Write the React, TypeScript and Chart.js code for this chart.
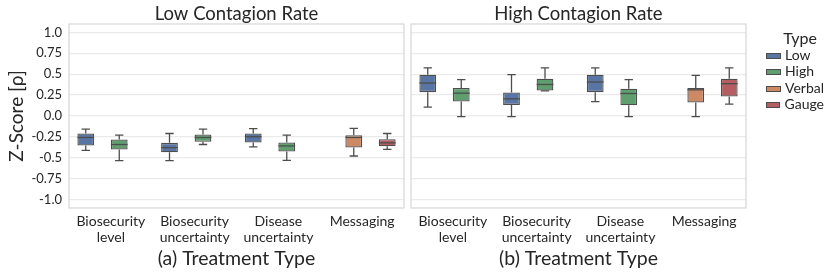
import React, { useEffect, useRef } from "react";
import { Chart, registerables } from "chart.js";

Chart.register(...registerables);

const FONT = "Lato, 'DejaVu Sans', sans-serif";
const TEXT = "#262626";

const categories: (string | string[])[] = [
  ["Biosecurity", "level"],
  ["Biosecurity", "uncertainty"],
  ["Disease", "uncertainty"],
  "Messaging",
];
const yTickValues = [-1, -0.75, -0.5, -0.25, 0, 0.25, 0.5, 0.75, 1];
const yTickLabels = ["-1.0", "-0.75", "-0.5", "-0.25", "0.0", "0.25", "0.5", "0.75", "1.0"];

// slot order inside each category (dodge order)
const slotTypes = ["Low", "Verbal", "High", "Gauge"];
const slotColors = ["#5875a4", "#cc8963", "#5f9e6e", "#b55d60"];
const legendTypes = ["Low", "High", "Verbal", "Gauge"];
const legendColors = ["#5875a4", "#5f9e6e", "#cc8963", "#b55d60"];

// each box: [lower whisker, Q1, median, Q3, upper whisker]
const lowRateLow = [
  [-0.41, -0.353, -0.257, -0.21, -0.157],
  [-0.534, -0.434, -0.378, -0.321, -0.209],
  [-0.369, -0.317, -0.248, -0.21, -0.152],
  null,
];
const lowRateVerbal = [null, null, null, [-0.478, -0.377, -0.257, -0.229, -0.148]];
const lowRateHigh = [
  [-0.534, -0.4, -0.341, -0.281, -0.229],
  [-0.341, -0.309, -0.257, -0.22, -0.157],
  [-0.53, -0.425, -0.358, -0.317, -0.229],
  null,
];
const lowRateGauge = [null, null, null, [-0.4, -0.361, -0.321, -0.277, -0.209]];

const highRateLow = [
  [0.105, 0.285, 0.394, 0.494, 0.575],
  [-0.008, 0.133, 0.205, 0.281, 0.494],
  [0.172, 0.285, 0.406, 0.494, 0.575],
  null,
];
const highRateVerbal = [null, null, null, [-0.008, 0.16, 0.313, 0.334, 0.486]];
const highRateHigh = [
  [-0.008, 0.172, 0.273, 0.334, 0.434],
  [0.3, 0.305, 0.377, 0.446, 0.575],
  [-0.008, 0.129, 0.269, 0.325, 0.434],
  null,
];
const highRateGauge = [null, null, null, [0.141, 0.233, 0.386, 0.446, 0.575]];

type Stat = number[] | null;

const LINE = "#4d4d4d";

const boxPlugin = {
  id: "boxWhiskers",
  beforeDatasetsDraw(chart: any) {
    const { ctx, chartArea } = chart;
    ctx.save();
    ctx.strokeStyle = "#d6d6d6";
    ctx.lineWidth = 1.2;
    ctx.strokeRect(chartArea.left, chartArea.top, chartArea.right - chartArea.left, chartArea.bottom - chartArea.top);
    ctx.restore();
  },
  afterDatasetsDraw(chart: any) {
    const { ctx } = chart;
    const y = chart.scales.y;
    chart.data.datasets.forEach((ds: any, di: number) => {
      const meta = chart.getDatasetMeta(di);
      (ds.stats as Stat[]).forEach((s, i) => {
        if (!s) return;
        const bar = meta.data[i] as any;
        const x = bar.x;
        const half = bar.width / 2;
        const cap = half / 2;
        const [wl, q1, med, q3, wh] = s.map((v) => y.getPixelForValue(v));
        ctx.save();
        ctx.strokeStyle = LINE;
        ctx.lineWidth = 1.3;
        ctx.beginPath();
        ctx.moveTo(x, q3);
        ctx.lineTo(x, wh);
        ctx.moveTo(x - cap, wh);
        ctx.lineTo(x + cap, wh);
        ctx.moveTo(x, q1);
        ctx.lineTo(x, wl);
        ctx.moveTo(x - cap, wl);
        ctx.lineTo(x + cap, wl);
        ctx.stroke();
        ctx.beginPath();
        ctx.moveTo(x - half, med);
        ctx.lineTo(x + half, med);
        ctx.stroke();
        ctx.restore();
      });
    });
  },
};

function makeDatasets(series: Stat[][]) {
  return series.map((stats, k) => ({
    label: slotTypes[k],
    data: stats.map((s) => (s ? [s[1], s[3]] : null)),
    stats,
    backgroundColor: slotColors[k],
    borderColor: LINE,
    borderWidth: 1.3,
    borderSkipped: false,
    categoryPercentage: 0.8,
    barPercentage: 1.0,
  }));
}

function makeConfig(series: Stat[][], title: string, xTitle: string, isLeft: boolean): any {
  return {
    type: "bar",
    data: { labels: categories, datasets: makeDatasets(series) },
    plugins: [boxPlugin],
    options: {
      responsive: false,
      animation: false,
      events: [],
      devicePixelRatio: 1,
      layout: { padding: { left: 0, right: isLeft ? 3 : 84, top: 0, bottom: 0 } },
      plugins: {
        legend: { display: false },
        tooltip: { enabled: false },
        title: {
          display: true,
          text: title,
          fullSize: false,
          color: TEXT,
          font: { family: FONT, size: 18.5, lineHeight: 1, weight: "normal" },
          padding: { top: 5, bottom: 0.5 },
        },
      },
      scales: {
        x: {
          type: "category",
          offset: true,
          grid: { display: false, drawTicks: false },
          border: { display: false },
          ticks: {
            color: TEXT,
            font: { family: FONT, size: 14, lineHeight: 1.1 },
            padding: 6,
            maxRotation: 0,
            autoSkip: false,
          },
          title: {
            display: true,
            text: xTitle,
            color: TEXT,
            font: { family: FONT, size: 19.5, lineHeight: 1 },
            padding: { top: 0, bottom: 9 },
          },
          afterFit: (s: any) => {
            s.height = 69;
          },
        },
        y: {
          type: "linear",
          min: -1.1,
          max: 1.1,
          afterBuildTicks: (s: any) => {
            s.ticks = yTickValues.map((v) => ({ value: v }));
          },
          grid: { color: "#eaeaea", lineWidth: 1.2, drawTicks: false },
          border: { display: false },
          ticks: {
            display: isLeft,
            color: TEXT,
            font: { family: FONT, size: 13 },
            padding: 7,
            callback: (_v: any, i: number) => yTickLabels[i],
          },
          title: {
            display: isLeft,
            text: "Z-Score [ρ]",
            color: TEXT,
            font: { family: FONT, size: 19, lineHeight: 1 },
            padding: { top: 7 },
          },
          afterFit: (s: any) => {
            s.width = isLeft ? 69 : 4;
          },
        },
      },
    },
  };
}

function Panel(props: { series: Stat[][]; title: string; xTitle: string; isLeft: boolean; left: number; width: number }) {
  const ref = useRef<HTMLCanvasElement | null>(null);
  useEffect(() => {
    if (!ref.current) return;
    const chart = new Chart(ref.current, makeConfig(props.series, props.title, props.xTitle, props.isLeft));
    return () => chart.destroy();
  }, []);
  return (
    <canvas
      ref={ref}
      width={props.width}
      height={277}
      style={{ position: "absolute", left: props.left, top: 0, width: props.width, height: 277 }}
    />
  );
}

export default function App() {
  return (
    <div style={{ position: "absolute", left: 0, top: 0, width: 830, height: 277, background: "#fff", overflow: "hidden" }}>
      <Panel
        series={[lowRateLow, lowRateVerbal, lowRateHigh, lowRateGauge]}
        title="Low Contagion Rate"
        xTitle="(a) Treatment Type"
        isLeft={true}
        left={0}
        width={407}
      />
      <Panel
        series={[highRateLow, highRateVerbal, highRateHigh, highRateGauge]}
        title="High Contagion Rate"
        xTitle="(b) Treatment Type"
        isLeft={false}
        left={407}
        width={423}
      />
      <div
        style={{
          position: "absolute",
          left: 766,
          top: 28,
          width: 58,
          fontFamily: FONT,
          color: TEXT,
        }}
      >
        <div style={{ fontSize: 16, lineHeight: "19px", textAlign: "center", marginLeft: 10 }}>Type</div>
        {legendTypes.map((t, i) => (
          <div key={t} style={{ display: "flex", alignItems: "center", height: 16.3, fontSize: 14 }}>
            <span
              style={{
                display: "inline-block",
                width: 13,
                height: 4,
                marginTop: 2,
                background: legendColors[i],
                border: `1px solid ${LINE}`,
                marginRight: 4,
              }}
            />
            <span style={{ lineHeight: "16px" }}>{t}</span>
          </div>
        ))}
      </div>
    </div>
  );
}
